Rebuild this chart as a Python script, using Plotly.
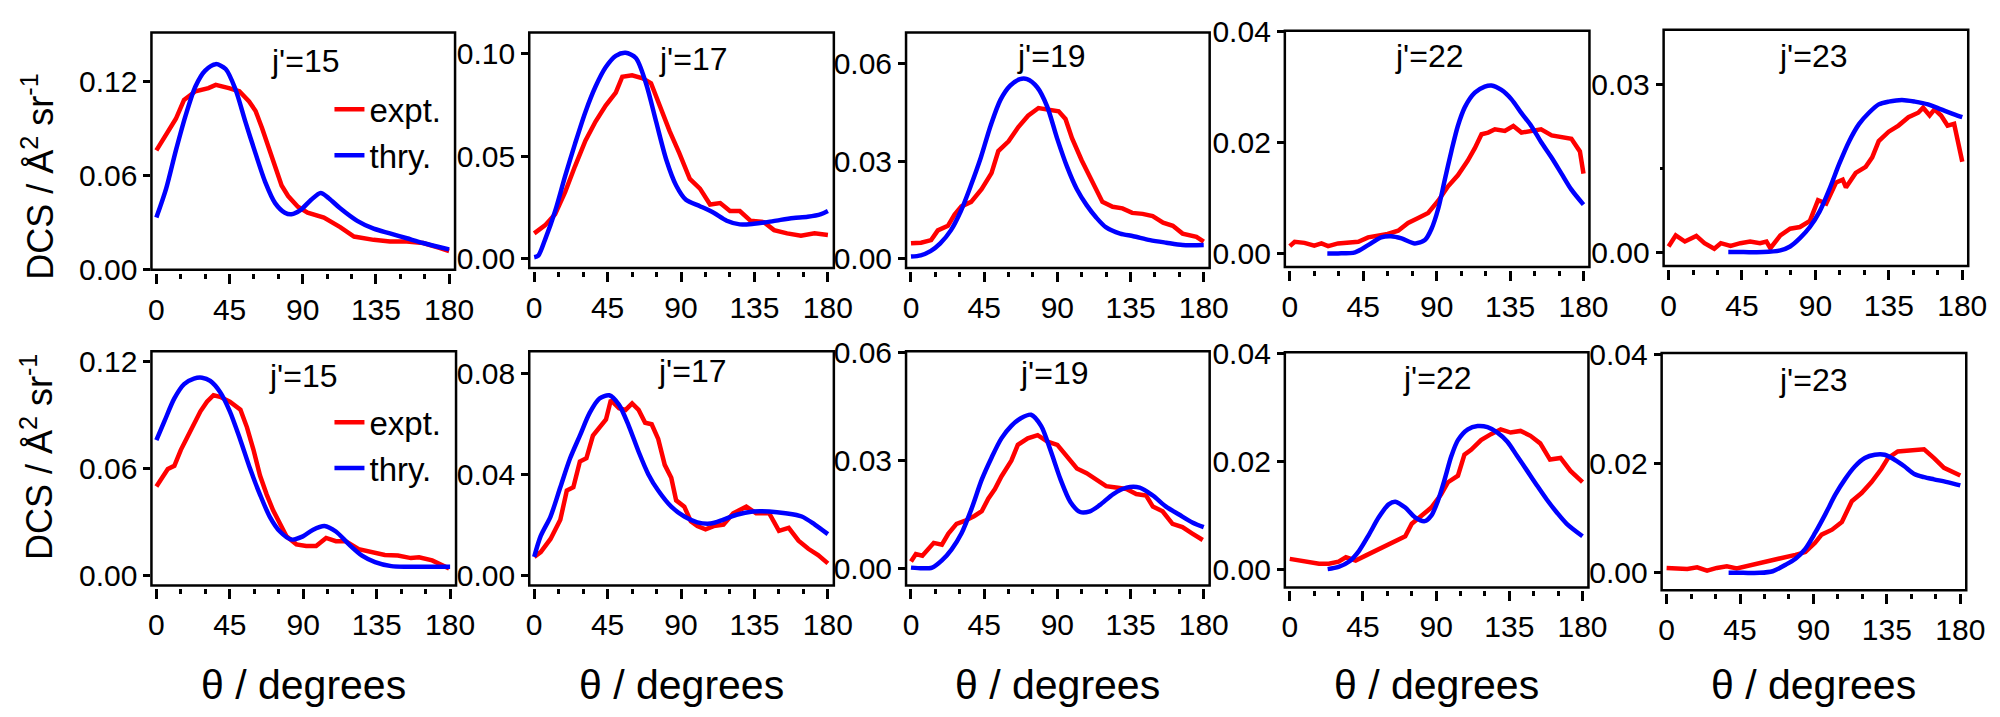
import plotly.graph_objects as go

# ---- data ----
LABELS = ["j'=15", "j'=17", "j'=19", "j'=22", "j'=23",
          "j'=15", "j'=17", "j'=19", "j'=22", "j'=23"]

# top row
P1_EXPT_X = [0, 6, 12, 17, 24, 32, 36.5, 44.6, 51, 57, 61, 65, 69, 73, 77, 81, 87, 93, 103, 113, 121.5,
             133.6, 143.6, 154, 164, 174, 180]
P1_EXPT_Y = [0.0759, 0.086, 0.096, 0.108, 0.1135, 0.1155, 0.1176, 0.1155, 0.1135, 0.107, 0.101, 0.090, 0.078,
             0.0657, 0.0535, 0.0468, 0.040, 0.0362, 0.0331, 0.027, 0.021, 0.0189, 0.0179, 0.0179, 0.0169,
             0.0138, 0.0118]
P1_THRY_X = [0, 6, 12, 18, 24, 30, 36.5, 42.6, 48.7, 54.7, 61, 67, 73, 79, 83, 89, 95, 101, 106, 113, 123.5,
             133.6, 143.6, 154, 164, 180]
P1_THRY_Y = [0.0331, 0.0515, 0.0759, 0.0982, 0.1166, 0.1267, 0.1308, 0.1277, 0.1145, 0.0942, 0.0738, 0.0555,
             0.0423, 0.0362, 0.0352, 0.0382, 0.0443, 0.0488, 0.0454, 0.039, 0.031, 0.026, 0.023, 0.0199,
             0.0169, 0.0128]

P2_EXPT_X = [0, 6.6, 12.8, 19, 25, 31.4, 37.6, 43.8, 50, 54, 60, 66.5, 71.6, 76.8, 83, 89, 95.4, 101.6,
             107.8, 114, 120, 126, 132.5, 140.8, 147, 155, 163.5, 171.8, 180]
P2_EXPT_Y = [0.0122, 0.0161, 0.0216, 0.0325, 0.045, 0.0575, 0.0669, 0.0747, 0.081, 0.0888, 0.0895, 0.088,
             0.0856, 0.0747, 0.0622, 0.0513, 0.0388, 0.0341, 0.0263, 0.027, 0.0231, 0.0231, 0.0184, 0.0177,
             0.0138, 0.0122, 0.011, 0.0122, 0.0114]
P2_THRY_X = [0, 2.5, 6.6, 12.8, 19, 25, 31.4, 37.6, 43.8, 50, 56, 62.3, 68.5, 74.7, 81, 87, 93, 101.6, 110,
             118, 126, 134.6, 142.8, 151, 159, 167.6, 175.8, 180]
P2_THRY_Y = [0.0005, 0.0013, 0.009, 0.023, 0.0403, 0.056, 0.0716, 0.084, 0.0934, 0.099, 0.1005, 0.098,
             0.0856, 0.0669, 0.0481, 0.0356, 0.0286, 0.0255, 0.0223, 0.0184, 0.0166, 0.0169, 0.0177, 0.0188,
             0.0197, 0.0203, 0.0216, 0.0231]

P3_EXPT_X = [0, 6.2, 12.4, 16.5, 22.7, 26.8, 31, 37, 43.4, 49.5, 53.7, 60, 66, 72, 78.4, 84.6, 90.8, 95, 99,
             105, 111.5, 117.7, 124, 130, 136, 142.4, 148.6, 155, 161, 167, 175.5, 180]
P3_EXPT_Y = [0.0046, 0.0048, 0.0056, 0.0086, 0.010, 0.0135, 0.016, 0.0174, 0.0213, 0.0263, 0.0331, 0.0361,
             0.0405, 0.044, 0.0464, 0.0459, 0.0454, 0.043, 0.0371, 0.0302, 0.0233, 0.0174, 0.0159, 0.0154,
             0.014, 0.0137, 0.013, 0.011, 0.010, 0.0076, 0.0066, 0.0051]
P3_THRY_X = [0, 6, 12, 18, 24.5, 30.6, 36.7, 43, 49, 55, 61, 67, 71.4, 77.6, 83.7, 89.8, 96, 102, 108, 114,
             120, 128.6, 136.7, 147, 157, 167, 180]
P3_THRY_Y = [0.0005, 0.0009, 0.0022, 0.0046, 0.0086, 0.0145, 0.0223, 0.0312, 0.041, 0.0489, 0.0533, 0.0553,
             0.0553, 0.0528, 0.0469, 0.0371, 0.0282, 0.0213, 0.0164, 0.0125, 0.0095, 0.0076, 0.0068, 0.0056,
             0.0048, 0.0041, 0.0041]

P4_EXPT_X = [0, 3, 9, 15, 19.4, 23.5, 29.6, 35.8, 42, 48, 54, 60, 66.4, 72.5, 78.7, 84.8, 91, 97, 103, 109,
             113.4, 117.5, 121.6, 125.7, 131.8, 137, 142, 148, 154, 160.5, 166.5, 172.6, 177.8, 180]
P4_EXPT_Y = [0.0013, 0.0021, 0.0019, 0.0014, 0.0018, 0.0013, 0.0018, 0.0019, 0.0021, 0.0029, 0.0031, 0.0035,
             0.0041, 0.0055, 0.0064, 0.0073, 0.0095, 0.0121, 0.0141, 0.0167, 0.019, 0.0215, 0.0218, 0.0224,
             0.0221, 0.023, 0.0218, 0.0221, 0.0224, 0.0213, 0.021, 0.0207, 0.0184, 0.0144]
P4_THRY_X = [23, 29.6, 40, 48, 56, 62, 68.5, 76.6, 82.8, 86.8, 91, 95, 99, 103, 107.3, 113.4, 119.5, 123.6,
             129.7, 135.9, 142, 148, 154, 160.4, 166.5, 172.6, 180]
P4_THRY_Y = [0, 0, 0.0002, 0.0015, 0.0029, 0.0031, 0.0027, 0.0018, 0.0024, 0.0044, 0.0081, 0.0133, 0.0184,
             0.023, 0.0264, 0.029, 0.0301, 0.0303, 0.0295, 0.0278, 0.0253, 0.023, 0.0201, 0.0173, 0.0144,
             0.0115, 0.0088]

P5_EXPT_X = [0, 4.4, 10, 17, 22, 28, 32, 38, 44, 50, 56, 60, 62.4, 68.5, 74.5, 80.5, 86.6, 91.6, 96.6, 102.7,
             106.7, 108.7, 114.7, 120.8, 124.8, 128.8, 134.9, 140.9, 147, 153, 156, 160, 163, 167, 171, 175,
             180]
P5_EXPT_Y = [0.001, 0.003, 0.0019, 0.0029, 0.0016, 0.0006, 0.0016, 0.0011, 0.0016, 0.0019, 0.0016, 0.0019,
             0.0007, 0.003, 0.0042, 0.0045, 0.0056, 0.0093, 0.0087, 0.0125, 0.013, 0.0116, 0.0142, 0.0153,
             0.017, 0.0199, 0.0216, 0.0227, 0.0242, 0.025, 0.0259, 0.0245, 0.0256, 0.0245, 0.0227, 0.023,
             0.0162]
P5_THRY_X = [36.6, 46, 58, 68.5, 74.5, 80.5, 86.6, 92.6, 98.6, 104.7, 110.7, 116.8, 122.8, 128.8, 134.9, 143,
             151, 159, 167, 175, 180]
P5_THRY_Y = [0, 0, 0, 0.0003, 0.001, 0.0025, 0.0045, 0.0073, 0.0113, 0.0159, 0.0199, 0.023, 0.025, 0.0265,
             0.027, 0.0273, 0.027, 0.0265, 0.0256, 0.0247, 0.0242]

# bottom row
P6_EXPT_X = [0, 3, 7, 11, 15, 19, 23, 27, 31, 35, 39, 45, 51.5, 55.5, 59.5, 63.5, 67.6, 71.6, 75.7, 79.7,
             85.8, 91.8, 97.9, 104, 110, 116, 124, 132, 140, 148, 156, 161, 169, 179.4]
P6_EXPT_Y = [0.0498, 0.0543, 0.0596, 0.0614, 0.0704, 0.0776, 0.0848, 0.092, 0.0974, 0.101, 0.1001, 0.0974,
             0.0929, 0.083, 0.0704, 0.056, 0.0453, 0.0363, 0.0291, 0.0219, 0.0174, 0.0165, 0.0165, 0.021,
             0.0192, 0.0192, 0.0147, 0.0129, 0.0115, 0.0111, 0.0097, 0.0102, 0.0084, 0.0039]
P6_THRY_X = [0, 5, 11, 17, 23, 28, 33, 39, 45, 51.5, 57.5, 63.5, 69.6, 75.7, 82.7, 89.8, 95.8, 103, 110, 118,
             126, 134, 144, 154, 164.5, 180]
P6_THRY_Y = [0.0758, 0.0866, 0.0992, 0.1072, 0.1103, 0.1108, 0.109, 0.1028, 0.092, 0.0758, 0.0596, 0.0453,
             0.0327, 0.0246, 0.0201, 0.0219, 0.0255, 0.0277, 0.0246, 0.0174, 0.0111, 0.0075, 0.0052, 0.0049,
             0.0049, 0.0049]

P7_EXPT_X = [0, 4, 10, 16, 20, 24, 28, 32, 36, 41, 44, 47, 52, 56, 60, 64, 68, 72, 76, 80, 84, 87, 92, 96,
             100, 105, 110, 116, 122, 130, 136, 144, 150, 156, 162, 168, 174, 180]
P7_EXPT_Y = [0.0073, 0.0092, 0.0144, 0.022, 0.0336, 0.0349, 0.0451, 0.0464, 0.0554, 0.0592, 0.0618, 0.0695,
             0.0663, 0.0656, 0.0682, 0.0656, 0.0605, 0.0599, 0.0541, 0.0438, 0.0387, 0.0297, 0.0272, 0.0214,
             0.0195, 0.0182, 0.0195, 0.0201, 0.0246, 0.0272, 0.0246, 0.0246, 0.0176, 0.0188, 0.0137, 0.0105,
             0.008, 0.0047]
P7_THRY_X = [0, 4, 10, 16, 22, 28, 34, 40, 46, 52, 58, 64, 70, 76, 84, 92, 100, 108, 116, 124, 134, 144, 154,
             164, 172, 180]
P7_THRY_Y = [0.0073, 0.0156, 0.0233, 0.0349, 0.0464, 0.0554, 0.0644, 0.0701, 0.0714, 0.0676, 0.0592, 0.049,
             0.04, 0.0336, 0.0272, 0.0233, 0.021, 0.0205, 0.0221, 0.024, 0.0253, 0.0253, 0.0246, 0.0233,
             0.0201, 0.0163]

P8_EXPT_X = [0, 3, 7, 11, 14, 19, 23, 28, 33, 39, 43.5, 47.5, 51.6, 55.6, 61.7, 65.7, 71.8, 77.9, 84, 90, 96,
             102, 108, 114, 120, 126, 132.5, 138.5, 144.6, 148.7, 154.7, 160.8, 166.9, 173, 179.4]
P8_EXPT_Y = [0.0019, 0.004, 0.0035, 0.0057, 0.0071, 0.0066, 0.0097, 0.0124, 0.0132, 0.0146, 0.0159, 0.0194,
             0.0221, 0.0256, 0.030, 0.0344, 0.0362, 0.0371, 0.0353, 0.0344, 0.0309, 0.0278, 0.0265, 0.0247,
             0.0229, 0.0225, 0.0221, 0.0207, 0.0203, 0.0172, 0.0159, 0.0124, 0.0115, 0.0097, 0.0079]
P8_THRY_X = [0, 7, 13, 19, 25, 31, 37.4, 43.5, 49.6, 55.6, 61.7, 67.8, 73.8, 80, 86, 92, 98, 104, 110, 116,
             124.4, 132.5, 140.6, 148.7, 156.8, 164.8, 173, 180]
P8_THRY_Y = [0.0002, 0, 0.0002, 0.0022, 0.0053, 0.0097, 0.0168, 0.0247, 0.0309, 0.0362, 0.0397, 0.0419,
             0.0428, 0.0397, 0.0326, 0.0247, 0.0185, 0.0157, 0.0159, 0.0176, 0.0207, 0.0225, 0.0225, 0.0203,
             0.0172, 0.015, 0.0128, 0.0115]

P9_EXPT_X = [0, 6, 12, 18, 24, 30, 34.5, 40.5, 46.6, 52.7, 58.8, 64.9, 71, 75, 81, 87, 93, 97.3, 103.4, 107.4,
             111.5, 117.6, 123.7, 129.7, 135.8, 141.9, 148, 154, 160, 166.5, 172.6, 180]
P9_EXPT_Y = [0.0019, 0.0016, 0.0014, 0.001, 0.001, 0.0014, 0.0022, 0.0016, 0.0025, 0.0034, 0.0043, 0.0052,
             0.0061, 0.0084, 0.0099, 0.0114, 0.0138, 0.0161, 0.0173, 0.0212, 0.0221, 0.0239, 0.025, 0.0259,
             0.0253, 0.0256, 0.0247, 0.0233, 0.0203, 0.0206, 0.0182, 0.0161]
P9_THRY_X = [23.3, 30, 36.5, 42.6, 48.7, 54.7, 60.8, 64.9, 71, 77, 83, 87, 91, 95.3, 99.3, 103.4, 109.5, 115.5,
             121.6, 127.7, 133.8, 139.9, 146, 152, 158, 164.2, 170.3, 180]
P9_THRY_Y = [0, 0.0004, 0.0014, 0.0034, 0.0064, 0.0096, 0.012, 0.0125, 0.0114, 0.0096, 0.0089, 0.0099,
             0.0126, 0.0167, 0.0209, 0.0239, 0.0259, 0.0265, 0.0263, 0.0253, 0.0236, 0.0209, 0.0182, 0.0155,
             0.0129, 0.0105, 0.0084, 0.0061]

P10_EXPT_X = [0, 6.7, 12.7, 18.7, 24.8, 30.8, 36.9, 43, 49, 55, 61, 67, 73, 79, 85, 91, 95, 101.4, 107.4,
              113.5, 119.5, 125.6, 131.6, 135.7, 141.7, 147.8, 153.8, 157.8, 163.9, 170, 180]
P10_EXPT_Y = [0.0009, 0.0009, 0.0007, 0.001, 0.0004, 0.0009, 0.0012, 0.0008, 0.0012, 0.0017, 0.002, 0.0023,
              0.0029, 0.0033, 0.0038, 0.0055, 0.007, 0.0079, 0.0093, 0.0131, 0.0146, 0.0166, 0.019, 0.021,
              0.0222, 0.0224, 0.0224, 0.0226, 0.021, 0.0192, 0.0178]
P10_THRY_X = [38, 47, 57, 65, 73, 79, 85, 91, 97.4, 103.4, 109.5, 115.5, 121.5, 127.6, 133.6, 139.7, 145.7,
              151.8, 157.8, 163.9, 172, 180]
P10_THRY_Y = [0, 0, 0, 0.0003, 0.0015, 0.0026, 0.0044, 0.0073, 0.0108, 0.0143, 0.0172, 0.0195, 0.021, 0.0216,
              0.0216, 0.0207, 0.0195, 0.0181, 0.0175, 0.0171, 0.0166, 0.016]

Y_TICKS = [
    [0, 0.06, 0.12], [0, 0.05, 0.10], [0, 0.03, 0.06], [0, 0.02, 0.04], [0, 0.03],
    [0, 0.06, 0.12], [0, 0.04, 0.08], [0, 0.03, 0.06], [0, 0.02, 0.04], [0, 0.02, 0.04],
]
Y_RANGES = [
    [-0.0002, 0.1509], [-0.0047, 0.1104], [-0.0030, 0.0697], [-0.00245, 0.0402], [-0.0025, 0.0399],
    [-0.0057, 0.1257], [-0.0041, 0.0889], [-0.0048, 0.0605], [-0.0034, 0.0402], [-0.0032, 0.0402],
]
X_RANGE = [-3.04, 183.65]

EXPT = [(P1_EXPT_X, P1_EXPT_Y), (P2_EXPT_X, P2_EXPT_Y), (P3_EXPT_X, P3_EXPT_Y), (P4_EXPT_X, P4_EXPT_Y),
        (P5_EXPT_X, P5_EXPT_Y), (P6_EXPT_X, P6_EXPT_Y), (P7_EXPT_X, P7_EXPT_Y), (P8_EXPT_X, P8_EXPT_Y),
        (P9_EXPT_X, P9_EXPT_Y), (P10_EXPT_X, P10_EXPT_Y)]
THRY = [(P1_THRY_X, P1_THRY_Y), (P2_THRY_X, P2_THRY_Y), (P3_THRY_X, P3_THRY_Y), (P4_THRY_X, P4_THRY_Y),
        (P5_THRY_X, P5_THRY_Y), (P6_THRY_X, P6_THRY_Y), (P7_THRY_X, P7_THRY_Y), (P8_THRY_X, P8_THRY_Y),
        (P9_THRY_X, P9_THRY_Y), (P10_THRY_X, P10_THRY_Y)]

# ---- layout geometry, in pixels of the 2000x717 page ----
W, H = 2000, 717
# (left, right, top, bottom) of each framed panel
BOXES = [
    (142, 449, 10, 258), (524, 832, 10, 256), (905, 1212, 10, 256), (1288, 1596, 8, 255), (1671, 1979, 7, 254),
    (142, 450, 343, 588), (524, 832, 343, 588), (905, 1212, 343, 588), (1288, 1595, 344, 590),
    (1669, 1977, 345, 593),
]
# centre of the j' label of each panel
LABEL_POS = [(298, 40), (690, 38), (1052, 34), (1434, 34), (1823, 34),
             (296, 369), (689, 364), (1055, 366), (1442, 371), (1823, 373)]

RED = "#ff0000"
BLUE = "#0000ff"
FONT = "Liberation Sans, Arial, sans-serif"


def fx(p):
    return p / W


def fy(p):
    return 1 - p / H


fig = go.Figure()
layout = {}
shapes = []
annotations = []

for k in range(10):
    n = k + 1
    xname = "x" if n == 1 else f"x{n}"
    yname = "y" if n == 1 else f"y{n}"
    left, right, top, bottom = BOXES[k]
    legend = "legend" if k == 0 else "legend2"
    show = k in (0, 5)

    ex, ey = EXPT[k]
    tx, ty = THRY[k]
    fig.add_trace(go.Scatter(x=ex, y=ey, mode="lines", name="expt.", xaxis=xname, yaxis=yname,
                             line=dict(color=RED, width=4.5), showlegend=show, legend=legend))
    fig.add_trace(go.Scatter(x=tx, y=ty, mode="lines", name="thry.", xaxis=xname, yaxis=yname,
                             line=dict(color=BLUE, width=4.5, shape="spline", smoothing=0.8),
                             showlegend=show, legend=legend))

    layout["xaxis" if n == 1 else f"xaxis{n}"] = dict(
        domain=[fx(left), fx(right)], range=X_RANGE, anchor="free", position=fy(bottom + 3),
        tickmode="linear", tick0=0, dtick=45, ticks="outside", ticklen=10, tickwidth=2.5,
        tickcolor="black", showline=False, showgrid=False, zeroline=False,
        minor=dict(tick0=0, dtick=15, ticks="outside", ticklen=5, tickwidth=2.5, tickcolor="black"),
        tickfont=dict(size=30, color="black", family=FONT),
    )
    yax = dict(
        domain=[fy(bottom), fy(top)], range=Y_RANGES[k], anchor=xname,
        tickmode="array", tickvals=Y_TICKS[k], tickformat=".2f", ticks="outside", ticklen=7,
        tickwidth=2.5, tickcolor="black", showline=False, showgrid=False, zeroline=False,
        tickfont=dict(size=30, color="black", family=FONT),
    )
    if k == 4:
        # unlabelled tick half way up the j'=23 panel
        yax["minor"] = dict(tickmode="array", tickvals=[0.015], ticks="outside", ticklen=3,
                            tickwidth=2.5, tickcolor="black")
    layout["yaxis" if n == 1 else f"yaxis{n}"] = yax

    shapes.append(dict(type="rect", xref=f"{xname} domain", yref=f"{yname} domain",
                       x0=0, x1=1, y0=0, y1=1, line=dict(color="black", width=2.5),
                       fillcolor="rgba(0,0,0,0)", layer="above"))

    lx, ly = LABEL_POS[k]
    annotations.append(dict(text=LABELS[k], x=fx(lx), y=fy(ly), xref="paper", yref="paper",
                            xanchor="center", yanchor="middle", showarrow=False,
                            font=dict(size=32, color="black", family=FONT)))

    if k >= 5:
        annotations.append(dict(text="θ / degrees", x=fx((left + right) / 2), y=fy(692),
                                xref="paper", yref="paper", xanchor="center", yanchor="middle",
                                showarrow=False, font=dict(size=41, color="black", family=FONT)))

for yc in (161, 454):
    annotations.append(dict(text="DCS / Å<sup>2</sup> sr<sup>-1</sup>", x=fx(27), y=fy(yc),
                            xref="paper", yref="paper", xanchor="center", yanchor="middle",
                            textangle=-90, showarrow=False,
                            font=dict(size=36, color="black", family=FONT)))

legend_style = dict(font=dict(size=33, color="black", family=FONT), bgcolor="rgba(0,0,0,0)",
                    borderwidth=0, xanchor="left", yanchor="top", tracegroupgap=0,
                    itemwidth=30, itemclick=False)

fig.update_layout(
    width=W, height=H,
    margin=dict(l=0, r=0, t=0, b=0),
    paper_bgcolor="white", plot_bgcolor="white",
    font=dict(family=FONT, color="black"),
    shapes=shapes, annotations=annotations,
    legend=dict(x=fx(322), y=fy(61), **legend_style),
    legend2=dict(x=fx(322), y=fy(388), **legend_style),
    **layout,
)

fig.write_html("out.html")
